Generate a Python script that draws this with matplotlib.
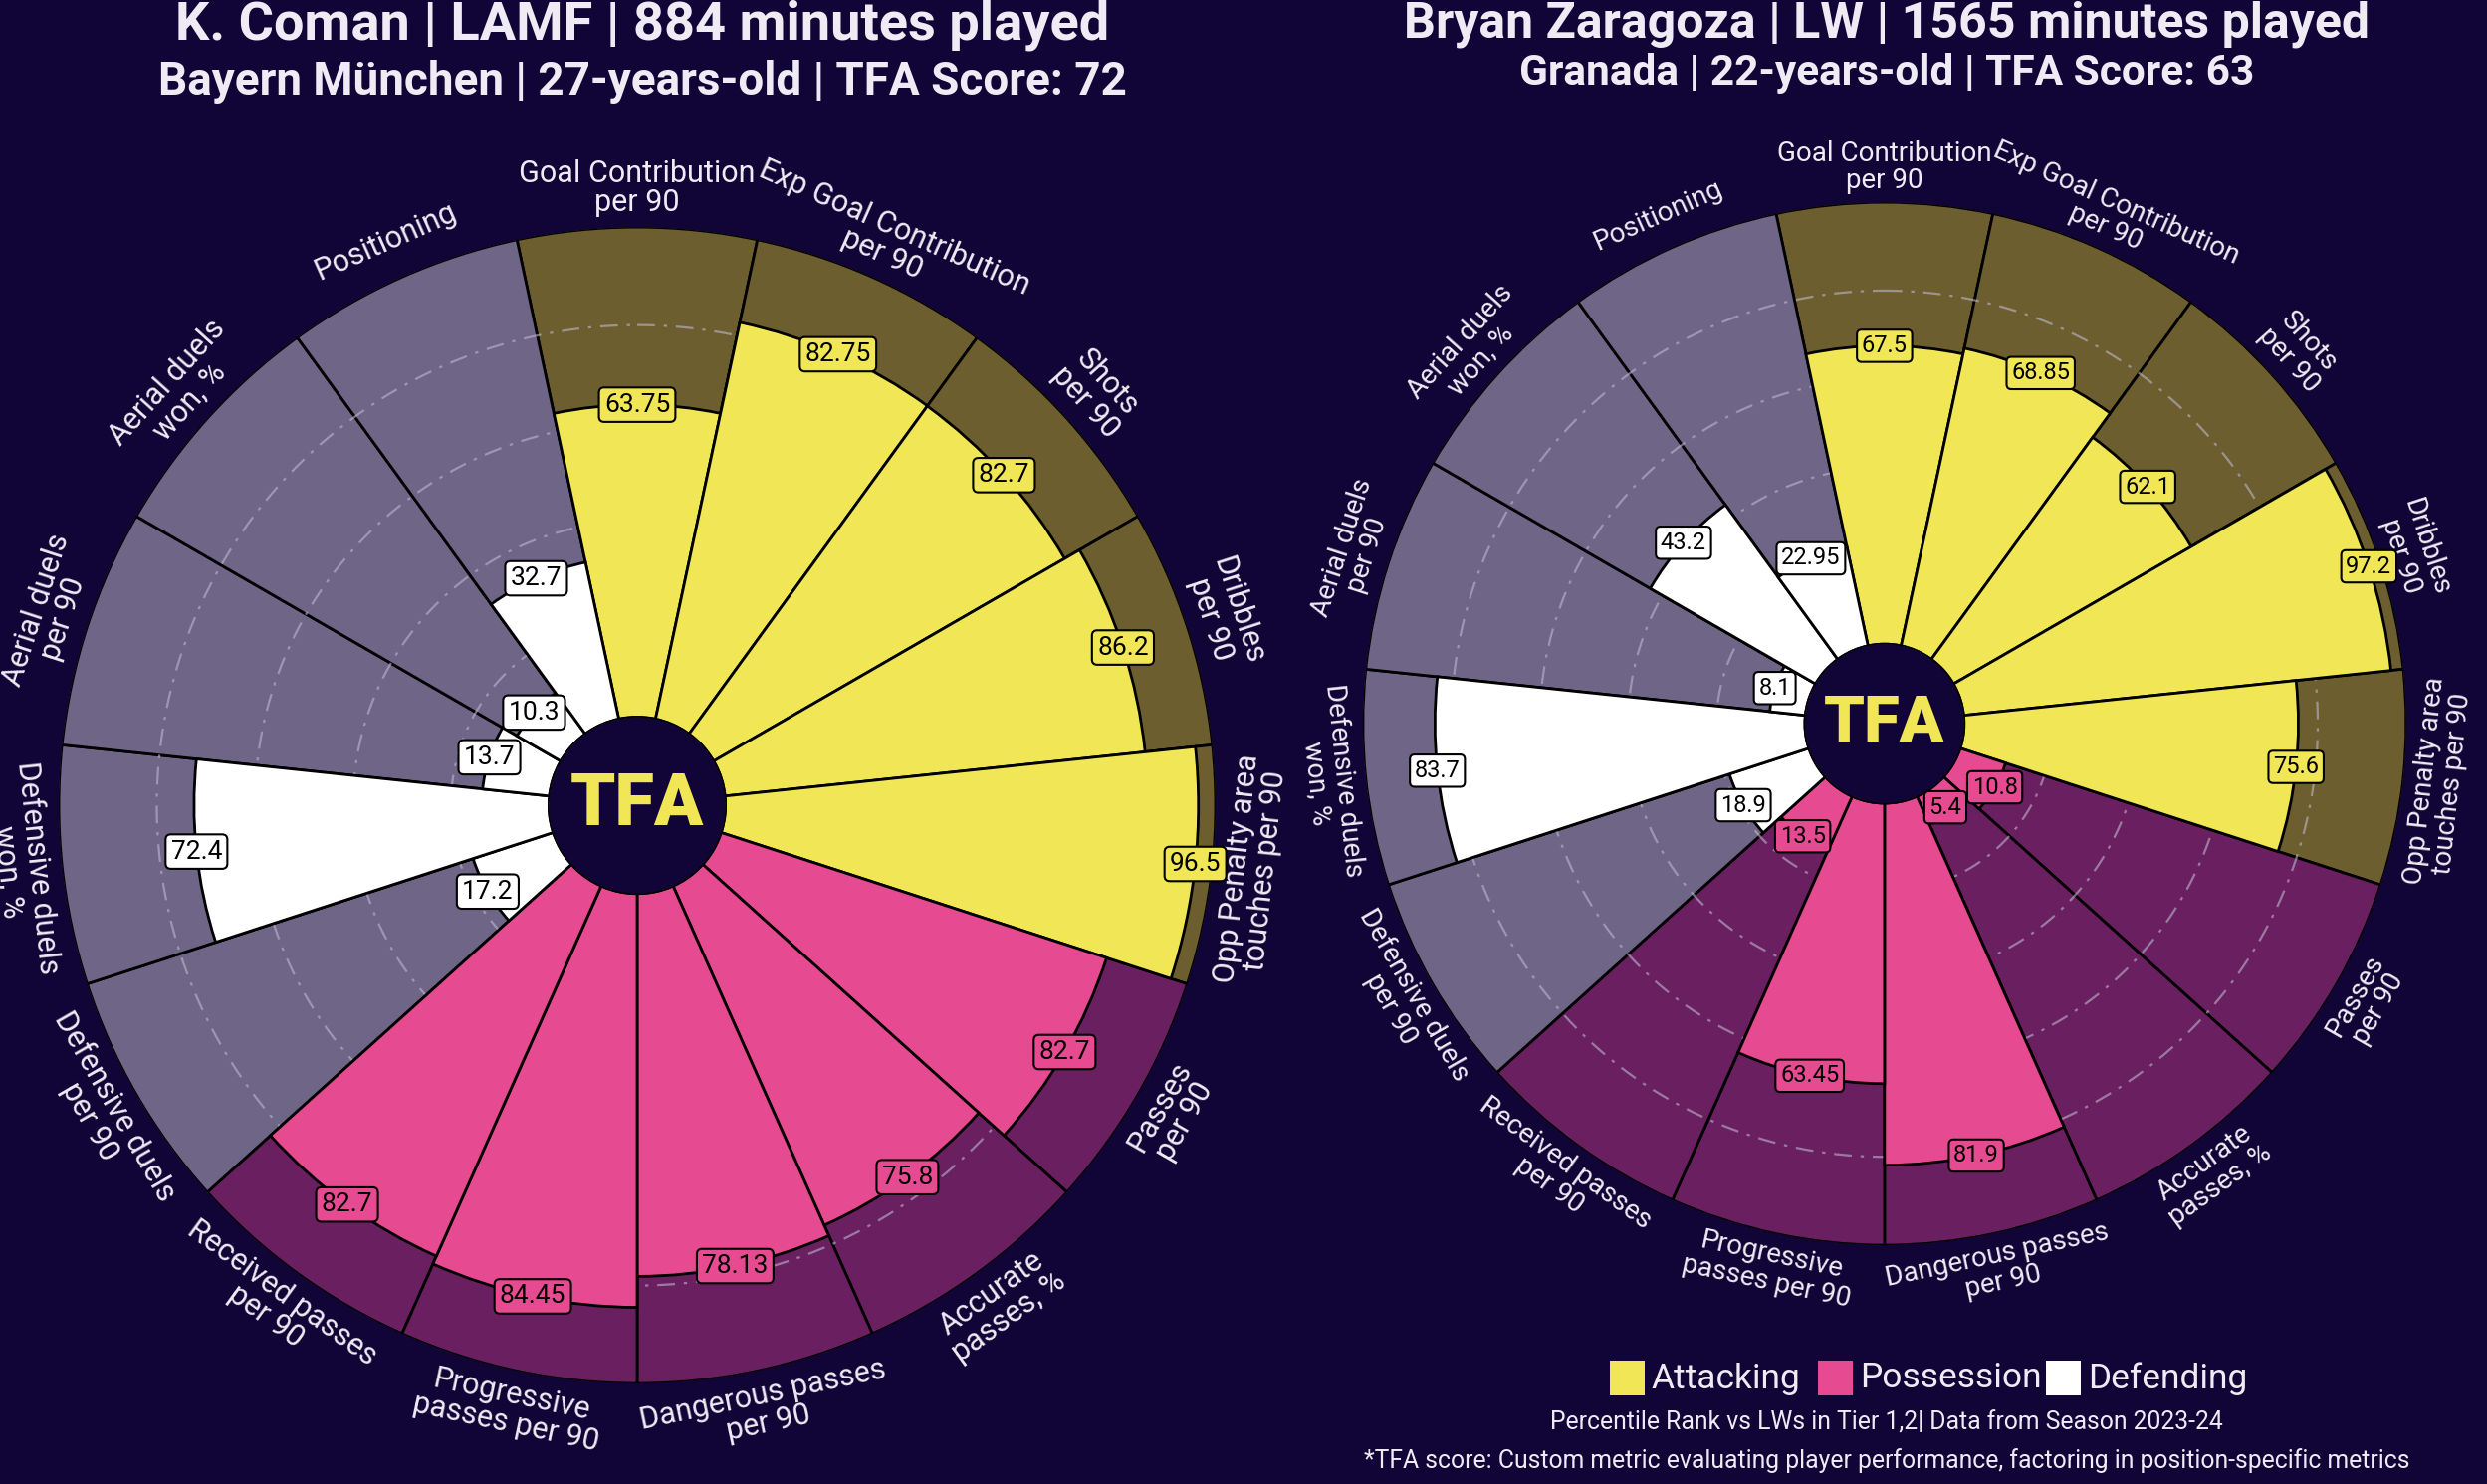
import numpy as np
import matplotlib
matplotlib.use("Agg")
import matplotlib.pyplot as plt
from matplotlib.patches import Circle, Rectangle

plt.rcParams['font.family'] = ['Roboto', 'DejaVu Sans']

BG = "#110436"
TXT = "#EEEBF5"

# percentile ranks, clockwise from the top
params = ["Goal Contribution\nper 90", "Exp Goal Contribution\nper 90", "Shots\nper 90",
          "Dribbles\nper 90", "Opp Penalty area\ntouches per 90", "Passes\nper 90",
          "Accurate\npasses, %", "Dangerous passes\nper 90", "Progressive\npasses per 90",
          "Received passes\nper 90", "Defensive duels\nper 90", "Defensive duels\nwon, %",
          "Aerial duels\nper 90", "Aerial duels\nwon, %", "Positioning"]
groups = ["Attacking"] * 5 + ["Possession"] * 5 + ["Defending"] * 5

coman_values = [63.75, 82.75, 82.7, 86.2, 96.5, 82.7, 75.8, 78.13, 84.45, 82.7,
                17.2, 72.4, 13.7, 10.3, 32.7]
zaragoza_values = [67.5, 68.85, 62.1, 97.2, 75.6, 10.8, 5.4, 81.9, 63.45, 13.5,
                   18.9, 83.7, 8.1, 43.2, 22.95]

coman_title = "K. Coman | LAMF | 884 minutes played"
coman_sub = "Bayern München | 27-years-old | TFA Score: 72"
zaragoza_title = "Bryan Zaragoza | LW | 1565 minutes played"
zaragoza_sub = "Granada | 22-years-old | TFA Score: 63"

legend_names = ["Attacking", "Possession", "Defending"]
footer1 = "Percentile Rank vs LWs in Tier 1,2| Data from Season 2023-24"
footer2 = "*TFA score: Custom metric evaluating player performance, factoring in position-specific metrics"

slice_col = {"Attacking": "#F0E656", "Possession": "#E64B91", "Defending": "#FFFFFF"}
back_col = {"Attacking": "#6C5E2E", "Possession": "#6A2060", "Defending": "#6E6587"}

INNER = 18


def draw_pizza(ax, values, psize, vsize, logo):
    n = len(params)
    theta = np.deg2rad(np.arange(n) * 360 / n)
    width = 2 * np.pi / n
    ax.set_theta_zero_location("N")
    ax.set_theta_direction(-1)
    ax.set_ylim(0, 100)
    ax.set_rorigin(-INNER)
    ax.axis("off")

    ax.bar(theta, [100] * n, width=width, bottom=0, color=[back_col[g] for g in groups],
           edgecolor="black", lw=2, zorder=1)
    tt = np.linspace(0, 2 * np.pi, 500)
    for g in [20, 40, 60, 80]:
        ax.plot(tt, [g] * len(tt), ls=(0, (8, 4, 1.5, 4)), color="#BDB8CF", lw=1.6,
                alpha=0.6, zorder=2)
    ax.bar(theta, values, width=width, bottom=0, color=[slice_col[g] for g in groups],
           edgecolor="black", lw=2, zorder=3)

    for t, v, g in zip(theta, values, groups):
        ax.text(t, v, str(v), ha="center", va="center", fontsize=vsize, color="black",
                zorder=5, bbox=dict(boxstyle="round,pad=0.2", fc=slice_col[g], ec="black", lw=1.5))

    for i, (t, p) in enumerate(zip(theta, params)):
        deg = i * 360 / n
        rot = -deg
        if 90 < deg < 270:
            rot += 180
        ax.text(t, 108, p, rotation=rot, rotation_mode="anchor", ha="center", va="center",
                fontsize=psize, color=TXT, linespacing=1.0)

    r = INNER / (100 + INNER) * 0.5
    ax.add_patch(Circle((0.5, 0.5), r, transform=ax.transAxes, fc="#13053A", ec="black",
                        lw=2, zorder=6))
    ax.text(0.5, 0.5, "TFA", transform=ax.transAxes, ha="center", va="center",
            fontsize=logo, fontweight="black", color="#F0E656", zorder=7)


fig = plt.figure(figsize=(24.98, 14.91), dpi=100)
fig.patch.set_facecolor(BG)

ax1 = fig.add_axes([0.0236, 0.0677, 0.4652, 0.7793], projection="polar")
draw_pizza(ax1, coman_values, 22, 19, 52)
ax2 = fig.add_axes([0.5480, 0.1609, 0.4195, 0.7029], projection="polar")
draw_pizza(ax2, zaragoza_values, 20, 17, 47)

fig.text(0.2582, 0.983, coman_title, ha="center", va="center", fontsize=39,
         fontweight="bold", color=TXT)
fig.text(0.2582, 0.945, coman_sub, ha="center", va="center", fontsize=33,
         fontweight="bold", color=TXT)
fig.text(0.7586, 0.984, zaragoza_title, ha="center", va="center", fontsize=36,
         fontweight="bold", color=TXT)
fig.text(0.7586, 0.951, zaragoza_sub, ha="center", va="center", fontsize=30.5,
         fontweight="bold", color=TXT)

# legend
x_sq = [1617, 1826, 2055]
for x, name in zip(x_sq, legend_names):
    fig.patches.append(Rectangle((x / 2498, 1 - 1402 / 1491), 35 / 2498, 35 / 1491,
                                 transform=fig.transFigure, fc=slice_col[name], ec="none"))
    fig.text((x + 42) / 2498, 1 - 1385 / 1491, name, ha="left", va="center",
             fontsize=25.5, color=TXT)

fig.text(0.7586, 1 - 1429 / 1491, footer1, ha="center", va="center", fontsize=17.8, color=TXT)
fig.text(0.7586, 1 - 1468 / 1491, footer2, ha="center", va="center", fontsize=17.8, color=TXT)

fig.savefig("out.png", dpi=100, facecolor=BG)
